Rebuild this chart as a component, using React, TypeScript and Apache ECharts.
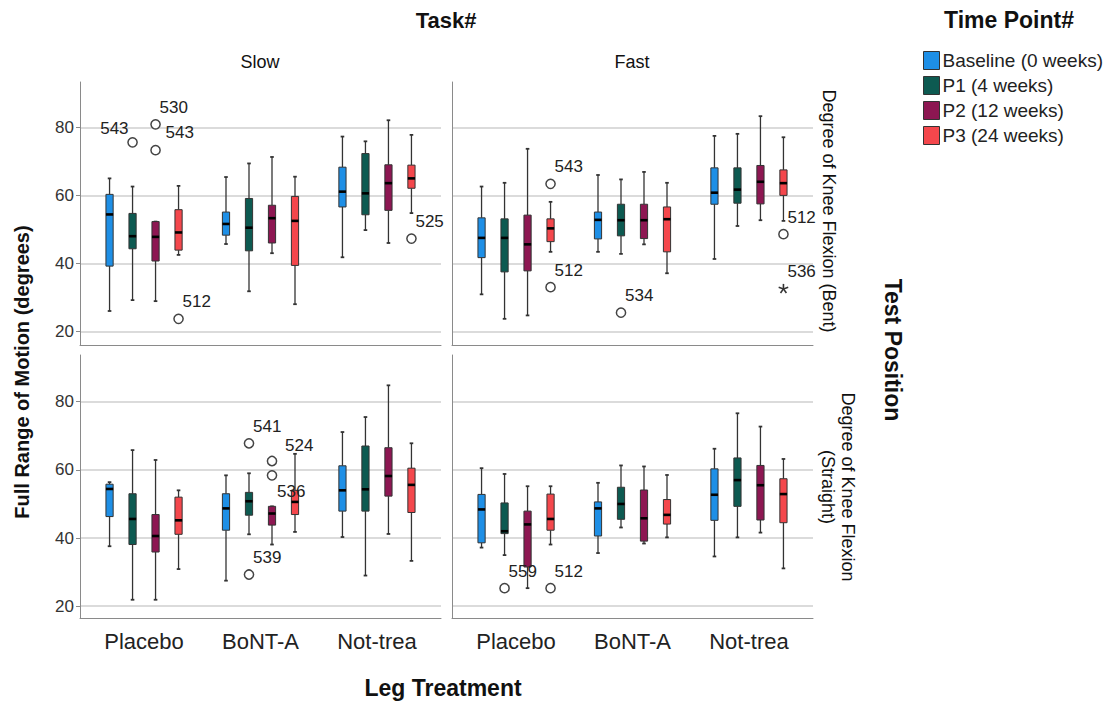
import React, { useEffect, useRef } from 'react';
import * as echarts from 'echarts';

// ---------------- DATA ----------------
const categories = ['Placebo', 'BoNT-A', 'Not-trea'];
const timePoints = ['Baseline (0 weeks)', 'P1 (4 weeks)', 'P2 (12 weeks)', 'P3 (24 weeks)'];
const tasks = ['Slow', 'Fast'];
const testPositions = ['Degree of Knee Flexion (Bent)', 'Degree of Knee Flexion\n(Straight)'];
const yTickValues = [20, 40, 60, 80];

// five-number summaries [min, q1, median, q3, max] for Placebo, BoNT-A, Not-trea
const slowBentBaseline = [[26.1, 39.3, 54.5, 60.4, 65.1], [45.8, 48.4, 51.7, 55.2, 65.5], [41.9, 56.7, 61.2, 68.4, 77.4]];
const slowBentP1 = [[29.3, 44.4, 48.1, 54.8, 62.7], [31.9, 43.8, 50.6, 59.2, 69.5], [49.9, 54.4, 60.7, 72.4, 76.0]];
const slowBentP2 = [[29.0, 40.8, 47.9, 52.4, 52.4], [43.1, 46.1, 53.4, 57.2, 71.4], [46.1, 55.7, 63.7, 69.1, 82.2]];
const slowBentP3 = [[42.6, 44.0, 49.2, 55.9, 62.9], [28.1, 39.5, 52.6, 59.8, 65.6], [54.9, 62.2, 65.1, 69.0, 77.9]];

const fastBentBaseline = [[31.0, 41.8, 47.6, 53.5, 62.7], [43.5, 47.3, 52.9, 55.2, 66.1], [41.4, 57.5, 60.9, 68.2, 77.6]];
const fastBentP1 = [[23.8, 37.6, 47.6, 53.2, 63.8], [42.9, 48.2, 52.8, 57.5, 64.8], [51.1, 57.8, 61.8, 68.2, 78.2]];
const fastBentP2 = [[24.8, 37.9, 45.7, 54.3, 73.8], [45.7, 47.4, 52.8, 57.5, 67.0], [52.8, 57.6, 64.1, 68.9, 83.4]];
const fastBentP3 = [[43.5, 46.5, 50.4, 53.2, 58.2], [37.2, 43.5, 53.1, 56.7, 63.8], [52.6, 60.1, 63.7, 67.6, 77.2]];

const slowStraightBaseline = [[37.6, 46.3, 54.4, 55.8, 56.4], [27.5, 42.3, 48.7, 53.0, 58.4], [40.3, 47.9, 54.0, 61.2, 71.1]];
const slowStraightP1 = [[21.9, 38.1, 45.6, 53.0, 65.8], [41.1, 46.7, 50.8, 53.4, 59.0], [29.0, 47.9, 54.3, 67.0, 75.5]];
const slowStraightP2 = [[21.9, 35.9, 40.6, 46.9, 62.9], [38.1, 43.8, 47.2, 49.3, 49.3], [41.2, 52.3, 58.2, 66.5, 84.8]];
const slowStraightP3 = [[30.9, 41.1, 45.2, 52.0, 54.0], [41.8, 46.9, 50.6, 54.0, 64.7], [33.3, 47.5, 55.6, 60.5, 67.8]];

const fastStraightBaseline = [[37.2, 38.6, 48.4, 52.8, 60.5], [35.6, 40.6, 48.7, 50.6, 56.2], [34.6, 45.2, 52.7, 60.3, 66.2]];
const fastStraightP1 = [[35.0, 41.3, 42.0, 50.3, 58.8], [43.1, 45.5, 50.0, 54.9, 61.3], [40.2, 49.3, 57.0, 63.5, 76.6]];
const fastStraightP2 = [[25.3, 31.5, 44.0, 47.9, 55.2], [38.4, 39.1, 45.8, 54.1, 61.0], [41.6, 45.3, 55.5, 61.3, 72.7]];
const fastStraightP3 = [[38.1, 42.3, 45.6, 52.9, 55.2], [40.2, 44.1, 46.8, 51.3, 58.5], [31.1, 44.5, 52.9, 57.4, 63.2]];

// panel order: 0 Slow/Bent, 1 Fast/Bent, 2 Slow/Straight, 3 Fast/Straight
const panelBoxes = [
  [slowBentBaseline, slowBentP1, slowBentP2, slowBentP3],
  [fastBentBaseline, fastBentP1, fastBentP2, fastBentP3],
  [slowStraightBaseline, slowStraightP1, slowStraightP2, slowStraightP3],
  [fastStraightBaseline, fastStraightP1, fastStraightP2, fastStraightP3],
];

// outliers
const outlierPanel = [0, 0, 0, 0, 0, 1, 1, 1, 1, 1, 2, 2, 2, 2, 3, 3];
const outlierCategory = [0, 0, 0, 0, 2, 0, 0, 1, 2, 2, 1, 1, 1, 1, 0, 0];
const outlierTimePoint = [1, 2, 2, 3, 3, 3, 3, 1, 3, 3, 1, 1, 2, 2, 1, 3];
const outlierValue = [75.7, 81.0, 73.4, 23.8, 47.4, 63.5, 33.1, 25.6, 48.7, 32.6, 67.8, 29.3, 62.6, 58.4, 25.3, 25.3];
const outlierCase = ['543', '530', '543', '512', '525', '543', '512', '534', '512', '536', '541', '539', '524', '536', '559', '512'];
const outlierExtreme = [false, false, false, false, false, false, false, false, false, true, false, false, false, false, false, false];

// ---------------- LAYOUT / STYLE ----------------
const FONT = 'Liberation Sans, Arial, Helvetica, sans-serif';
const colors = ['#1e8fe6', '#0d5a51', '#8d1752', '#f4474c'];
const gridLeft = [80, 452];
const gridTop = [82, 355];
const gridHeight = [263, 263.5];
const gridWidth = 361;
const yMin = [16.1, 16.4];
const yMax = [93.45, 93.7];
const xMin = -0.55;
const xMax = 2.55;
const boxStep = 0.1975;
// label placement [dx, dy, align] for selected outliers (by index)
const labelPlacement: Record<number, [number, number, string]> = {
  0: [-4, -14, 'right'],
  2: [10, -18, 'left'],
  12: [13, -16, 'left'],
  13: [5, 16, 'left'],
};

const renderBox = (params: any, api: any) => {
  const x = api.value(0);
  const c = (v: number) => api.coord([x, v]);
  const pMin = c(api.value(1));
  const pQ1 = c(api.value(2));
  const pMed = c(api.value(3));
  const pQ3 = c(api.value(4));
  const pMax = c(api.value(5));
  const cx = pMed[0];
  const hw = 3.6;
  const stroke = '#333';
  const fill = api.visual('color');
  return {
    type: 'group',
    children: [
      { type: 'line', shape: { x1: cx, y1: pQ3[1], x2: cx, y2: pMax[1] }, style: { stroke, lineWidth: 1.3 } },
      { type: 'line', shape: { x1: cx, y1: pQ1[1], x2: cx, y2: pMin[1] }, style: { stroke, lineWidth: 1.3 } },
      { type: 'line', shape: { x1: cx - 1.8, y1: pMax[1], x2: cx + 1.8, y2: pMax[1] }, style: { stroke, lineWidth: 1.8 } },
      { type: 'line', shape: { x1: cx - 1.8, y1: pMin[1], x2: cx + 1.8, y2: pMin[1] }, style: { stroke, lineWidth: 1.8 } },
      {
        type: 'rect',
        shape: { x: cx - hw, y: pQ3[1], width: hw * 2, height: pQ1[1] - pQ3[1] },
        style: { fill, stroke, lineWidth: 1 },
      },
      { type: 'line', shape: { x1: cx - hw, y1: pMed[1], x2: cx + hw, y2: pMed[1] }, style: { stroke: '#000', lineWidth: 2.6 } },
    ],
  };
};

const renderOutlier = (params: any, api: any) => {
  const idx = api.value(2);
  const p = api.coord([api.value(0), api.value(1)]);
  const place = labelPlacement[idx] || [4, -17, 'left'];
  const children: any[] = [];
  if (outlierExtreme[idx]) {
    for (let k = 0; k < 5; k++) {
      const a = -Math.PI / 2 + (k * 2 * Math.PI) / 5;
      children.push({
        type: 'line',
        shape: { x1: p[0], y1: p[1], x2: p[0] + Math.cos(a) * 5, y2: p[1] + Math.sin(a) * 5 },
        style: { stroke: '#333', lineWidth: 1.6 },
      });
    }
  } else {
    children.push({
      type: 'circle',
      shape: { cx: p[0], cy: p[1], r: 4.6 },
      style: { fill: '#fff', stroke: '#444', lineWidth: 1.5 },
    });
  }
  children.push({
    type: 'text',
    x: p[0] + place[0],
    y: p[1] + place[1],
    style: {
      text: outlierCase[idx],
      fill: '#222',
      font: `17px ${FONT}`,
      textAlign: place[2],
      align: place[2],
      textVerticalAlign: 'middle',
      verticalAlign: 'middle',
    },
  });
  return { type: 'group', children };
};

const txt = (text: string, x: number, y: number, font: string, rotation = 0) => ({
  type: 'text',
  x,
  y,
  rotation,
  style: {
    text,
    font,
    fill: '#111',
    textAlign: 'center',
    align: 'center',
    textVerticalAlign: 'middle',
    verticalAlign: 'middle',
    lineHeight: 20,
  },
});

export default function App() {
  const ref = useRef<HTMLDivElement>(null);
  useEffect(() => {
    if (!ref.current) return;
    const chart = echarts.init(ref.current, undefined, { renderer: 'svg' });

    const grid: any[] = [];
    const xAxis: any[] = [];
    const yAxis: any[] = [];
    const series: any[] = [];

    for (let p = 0; p < 4; p++) {
      const row = Math.floor(p / 2);
      const col = p % 2;
      grid.push({ left: gridLeft[col], top: gridTop[row], width: gridWidth, height: gridHeight[row], containLabel: false });
      xAxis.push({
        type: 'value',
        gridIndex: p,
        min: xMin,
        max: xMax,
        position: 'bottom',
        axisLine: { show: true, onZero: false, lineStyle: { color: '#8a8a8a', width: 1 } },
        axisTick: { show: false },
        splitLine: { show: false },
        axisLabel: {
          show: row === 1,
          customValues: [0, 1, 2],
          formatter: (v: number) => categories[Math.round(v)] ?? '',
          fontSize: 22,
          color: '#222',
          margin: 12,
          fontFamily: FONT,
        },
      });
      yAxis.push({
        type: 'value',
        gridIndex: p,
        min: yMin[row],
        max: yMax[row],
        splitNumber: 4,
        position: 'left',
        axisLine: { show: true, onZero: false, lineStyle: { color: '#8a8a8a', width: 1 } },
        axisTick: { show: col === 0, length: 4, customValues: yTickValues, lineStyle: { color: '#8a8a8a' } },
        axisLabel: { show: col === 0, customValues: yTickValues, fontSize: 17, color: '#333', margin: 6, fontFamily: FONT },
        splitLine: { show: true, showMinLine: true, showMaxLine: true, lineStyle: { color: '#cfcfcf', width: 1.6 } },
      });

      for (let tp = 0; tp < 4; tp++) {
        const data = panelBoxes[p][tp].map((s, ci) => [ci + (tp - 1.5) * boxStep, ...s]);
        series.push({
          type: 'custom',
          name: timePoints[tp],
          xAxisIndex: p,
          yAxisIndex: p,
          itemStyle: { color: colors[tp], borderColor: '#333', borderWidth: 1 },
          encode: { x: 0, y: [1, 2, 3, 4, 5] },
          renderItem: renderBox,
          data,
          silent: true,
        });
      }

      const oData: any[] = [];
      outlierPanel.forEach((op, i) => {
        if (op === p) oData.push([outlierCategory[i] + (outlierTimePoint[i] - 1.5) * boxStep, outlierValue[i], i]);
      });
      series.push({
        type: 'custom',
        name: 'outliers',
        xAxisIndex: p,
        yAxisIndex: p,
        encode: { x: 0, y: 1 },
        renderItem: renderOutlier,
        data: oData,
        silent: true,
      });
    }

    const option: any = {
      animation: false,
      backgroundColor: '#fff',
      textStyle: { fontFamily: FONT },
      grid,
      xAxis,
      yAxis,
      series,
      legend: {
        data: timePoints,
        orient: 'vertical',
        left: 918,
        top: 46,
        itemWidth: 16,
        itemHeight: 18,
        itemGap: 6,
        icon: 'rect',
        selectedMode: false,
        itemStyle: { borderColor: '#333', borderWidth: 1 },
        textStyle: { fontSize: 19, color: '#222', fontFamily: FONT, padding: [0, 0, 0, -2] },
      },
      graphic: [
        txt('Task#', 446, 20, `bold 22px ${FONT}`),
        txt(tasks[0], 260, 62, `18px ${FONT}`),
        txt(tasks[1], 632, 62, `18px ${FONT}`),
        txt('Time Point#', 1009, 20, `bold 23px ${FONT}`),
        txt('Leg Treatment', 443, 688, `bold 23px ${FONT}`),
        txt('Full Range of Motion (degrees)', 22, 372, `bold 20px ${FONT}`, Math.PI / 2),
        txt('Test Position', 893, 350, `bold 23px ${FONT}`, -Math.PI / 2),
        txt(testPositions[0], 829, 211, `18px ${FONT}`, -Math.PI / 2),
        txt(testPositions[1], 838, 487, `18px ${FONT}`, -Math.PI / 2),
      ],
    };
    chart.setOption(option);
    return () => chart.dispose();
  }, []);

  return (
    <div
      ref={ref}
      style={{ position: 'fixed', left: 0, top: 0, width: 1108, height: 702, background: '#fff' }}
    />
  );
}
